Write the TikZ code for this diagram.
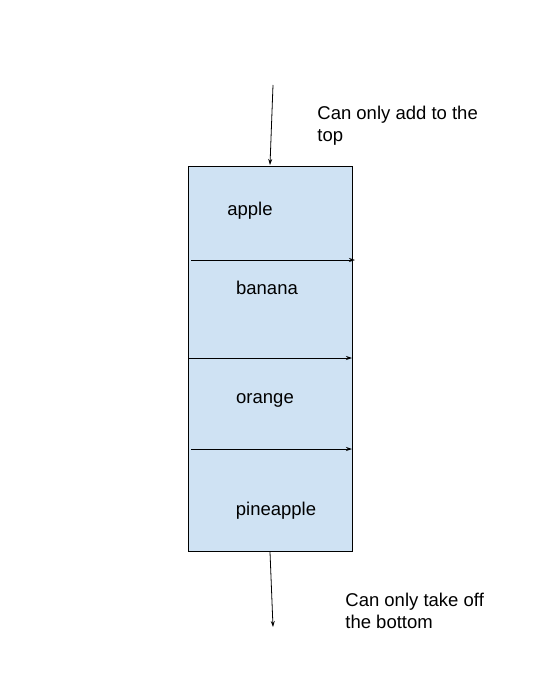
\documentclass[tikz,border=0pt]{standalone}
\usepackage{fontspec}
\setmainfont{Liberation Sans}
\usetikzlibrary{arrows.meta}
\definecolor{queueblue}{HTML}{CFE2F3}
\tikzset{
	queuebox/.style  = {shape=rectangle, draw, fill=queueblue,
		minimum width=164pt, minimum height=385pt, inner sep=0pt},
	item/.style      = {font=\fontsize{18.5}{22}\selectfont},
	note/.style      = {item, align=left, anchor=base west, inner sep=0pt},
	flow/.style      = {draw, -{Stealth[length=6pt,width=4pt]}}
}
\begin{document}
\begin{tikzpicture}
[
x                 = 1pt,
y                 = -1pt,
every path/.style = {line width=0.8pt}
]
\useasboundingbox (0,0) rectangle (537,679);
\node [queuebox] (queue) at (270,358.5) {};
% entries
\node [item] (apple) at (250,211) {apple};
\node [item] (banana) at (267,288) {banana};
\node [item] (orange) at (265,400) {orange};
\node [item] (pineapple) at (276,511) {pineapple};
% separators
\coordinate (s1a) at (191,260); \coordinate (s1b) at (355,260);
\coordinate (s2a) at (189,358); \coordinate (s2b) at (352,358);
\coordinate (s3a) at (191,449); \coordinate (s3b) at (352,449);
\draw [flow] (s1a) -- (s1b);
\draw [flow] (s2a) -- (s2b);
\draw [flow] (s3a) -- (s3b);
% in and out
\coordinate (in) at (273,85);
\coordinate (out) at (273,627);
\draw [flow] (in) -- (270,165);
\draw [flow] (270,552) -- (out);
\node [note] (addnote) at (317,141.5) {Can only add to the\\top};
\node [note] (takenote) at (345,628.5) {Can only take off\\the bottom};
\end{tikzpicture}
\end{document}
